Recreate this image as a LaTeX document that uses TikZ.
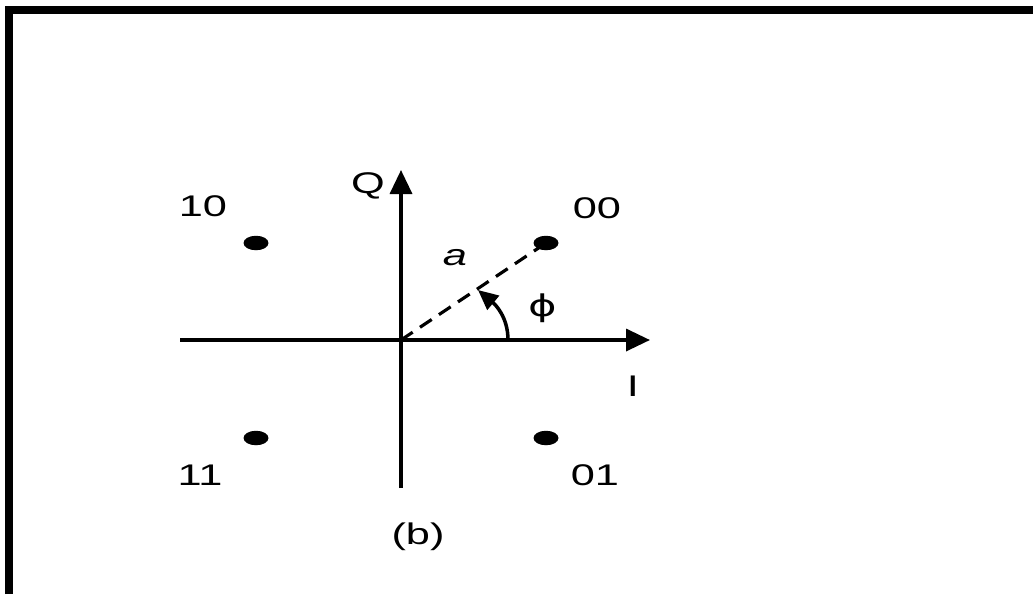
\documentclass[tikz,border=0pt]{standalone}
\usepackage{fontspec}
\setmainfont{Liberation Sans}
\newfontfamily\symfont{DejaVu Sans}
\usetikzlibrary{arrows.meta,shapes.geometric}

\begin{document}
\begin{tikzpicture}[
    every node/.style={inner sep=0pt},
    lbl/.style={font=\fontsize{8.5}{10}\selectfont, xscale=1.45},
    dot/.style={ellipse, fill=black, minimum width=0.25cm, minimum height=0.145cm},
    axis/.style={line width=1pt, -{Triangle[length=0.24cm,width=0.22cm]}},
    >={Triangle[length=0.2cm,width=0.18cm]}, line width=1pt
  ]
    \useasboundingbox (0,0) rectangle (10.33,-5.94);
    % frame
    \draw[line width=2.3pt] (0.09,-5.94) -- (0.09,-0.10) -- (10.33,-0.10);

    \coordinate (O) at (4.01,-3.40);
    \coordinate (Ileft) at (1.80,-3.40);
    \coordinate (Iend) at (6.50,-3.40);
    \coordinate (Qbot) at (4.01,-4.88);
    \coordinate (Qend) at (4.01,-1.70);
    \coordinate (arcstart) at (5.08,-3.40);
    \coordinate (arcend) at (4.78,-2.90);

    \node[dot] (p10) at (2.56,-2.43) {};
    \node[dot] (p00) at (5.46,-2.43) {};
    \node[dot] (p11) at (2.56,-4.38) {};
    \node[dot] (p01) at (5.46,-4.38) {};

    \node[lbl] (l10) at (2.03,-2.06) {10};
    \node[lbl] (l00) at (5.97,-2.08) {00};
    \node[lbl] (l11) at (2.00,-4.75) {11};
    \node[lbl] (l01) at (5.95,-4.75) {01};
    \node[lbl] (lQ) at (3.68,-1.86) {Q};
    \node[lbl] (lI) at (6.33,-3.86) {I};
    \node[lbl] (la) at (4.55,-2.58) {\textit{a}};
    \node[lbl] (lphi) at (5.43,-3.08) {\symfont ϕ};
    \node[lbl] (lb) at (4.18,-5.37) {(b)};

    \draw[axis] (Ileft) -- (Iend);
    \draw[axis] (Qbot) -- (Qend);
    \draw[dashed, line width=0.9pt, dash pattern=on 4pt off 2.5pt] (O) -- (p00.center);
    \draw[->] (arcstart) to[out=90, in=-40] (arcend);
  \end{tikzpicture}
\end{document}
